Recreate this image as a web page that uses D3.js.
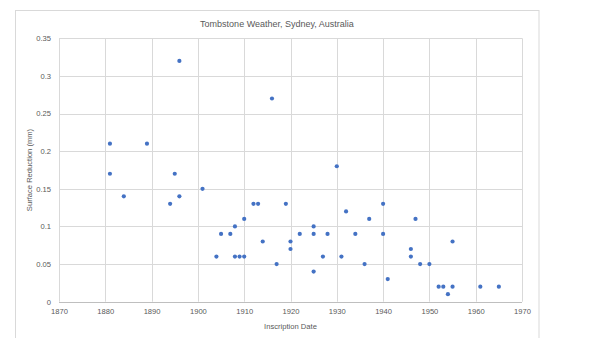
<!DOCTYPE html>
<html>
<head>
<meta charset="utf-8">
<script src="https://cdn.jsdelivr.net/npm/d3@7"></script>
<style>
  html, body { margin: 0; padding: 0; background: #fff; }
  svg { display: block; }
  text { font-family: "Liberation Sans", Arial, sans-serif; fill: #595959; }
</style>
</head>
<body>
<svg id="chart" width="608" height="338"></svg>
<script>
// Inscription year of each tombstone and its measured surface reduction (mm)
const years = [
  1881, 1881, 1884, 1889, 1894, 1895, 1896, 1896, 1901, 1904,
  1905, 1907, 1908, 1908, 1909, 1910, 1910, 1912, 1913, 1914,
  1916, 1917, 1919, 1920, 1920, 1922, 1925, 1925, 1925, 1927,
  1928, 1930, 1931, 1932, 1934, 1936, 1937, 1940, 1940, 1941,
  1946, 1946, 1947, 1948, 1950, 1952, 1953, 1954, 1955, 1955,
  1961, 1965
];
const reduction = [
  0.21, 0.17, 0.14, 0.21, 0.13, 0.17, 0.32, 0.14, 0.15, 0.06,
  0.09, 0.09, 0.10, 0.06, 0.06, 0.06, 0.11, 0.13, 0.13, 0.08,
  0.27, 0.05, 0.13, 0.08, 0.07, 0.09, 0.10, 0.09, 0.04, 0.06,
  0.09, 0.18, 0.06, 0.12, 0.09, 0.05, 0.11, 0.13, 0.09, 0.03,
  0.07, 0.06, 0.11, 0.05, 0.05, 0.02, 0.02, 0.01, 0.02, 0.08,
  0.02, 0.02
];
const xTicks = [1870, 1880, 1890, 1900, 1910, 1920, 1930, 1940, 1950, 1960, 1970];
const yTicks = [0, 0.05, 0.1, 0.15, 0.2, 0.25, 0.3, 0.35];
const yTickLabels = ["0", "0.05", "0.1", "0.15", "0.2", "0.25", "0.3", "0.35"];

const title = "Tombstone Weather, Sydney, Australia";
const xTitle = "Inscription Date";
const yTitle = "Surface Reduction (mm)";

const points = years.map((y, i) => ({ year: y, value: reduction[i] }));

const svg = d3.select("#chart");
const plot = { left: 59, right: 522, top: 38.3, bottom: 301.7 };

// outer chart frame
svg.append("rect")
  .attr("x", 15.5).attr("y", 10.5)
  .attr("width", 523.5).attr("height", 340)
  .attr("fill", "#fff").attr("stroke", "#d9d9d9").attr("stroke-width", 1);

const x = d3.scaleLinear().domain([1870, 1970]).range([plot.left, plot.right]);
const y = d3.scaleLinear().domain([0, 0.35]).range([plot.bottom, plot.top]);

// gridlines
const grid = svg.append("g");
grid.selectAll("line.v").data(xTicks).join("line")
  .attr("class", "v")
  .attr("x1", d => Math.round(x(d)) + 0.5).attr("x2", d => Math.round(x(d)) + 0.5)
  .attr("y1", plot.top).attr("y2", plot.bottom)
  .attr("stroke", "#d9d9d9").attr("stroke-width", 1);
grid.selectAll("line.h").data(yTicks).join("line")
  .attr("class", "h")
  .attr("x1", plot.left).attr("x2", plot.right)
  .attr("y1", d => Math.round(y(d)) + 0.5).attr("y2", d => Math.round(y(d)) + 0.5)
  .attr("stroke", d => d === 0 ? "#bfbfbf" : "#d9d9d9").attr("stroke-width", 1);

// axes (labels only; lines come from the grid)
const xAxis = d3.axisBottom(x).tickValues(xTicks).tickSize(0).tickPadding(7)
  .tickFormat(d3.format("d"));
svg.append("g").attr("transform", `translate(0,${plot.bottom})`).call(xAxis)
  .call(g => g.select(".domain").remove())
  .selectAll("text").attr("font-size", "7.6px").attr("fill", "#595959")
  .attr("font-family", "Liberation Sans, Arial, sans-serif");

const yAxis = d3.axisLeft(y).tickValues(yTicks).tickSize(0).tickPadding(8)
  .tickFormat((d, i) => yTickLabels[i]);
svg.append("g").attr("transform", `translate(${plot.left},0)`).call(yAxis)
  .call(g => g.select(".domain").remove())
  .selectAll("text").attr("font-size", "7.6px").attr("fill", "#595959")
  .attr("font-family", "Liberation Sans, Arial, sans-serif");

// markers
svg.append("g").selectAll("circle").data(points).join("circle")
  .attr("cx", d => x(d.year))
  .attr("cy", d => y(d.value))
  .attr("r", 2.1)
  .attr("fill", "#4472c4");

// titles
svg.append("text")
  .attr("x", 277).attr("y", 26.5)
  .attr("text-anchor", "middle")
  .attr("font-size", "9px")
  .attr("fill", "#595959")
  .text(title);

svg.append("text")
  .attr("x", (plot.left + plot.right) / 2).attr("y", 328.5)
  .attr("text-anchor", "middle")
  .attr("font-size", "7.6px")
  .text(xTitle);

svg.append("text")
  .attr("transform", `translate(31.5,${(plot.top + plot.bottom) / 2}) rotate(-90)`)
  .attr("text-anchor", "middle")
  .attr("font-size", "7.6px")
  .text(yTitle);
</script>
</body>
</html>
